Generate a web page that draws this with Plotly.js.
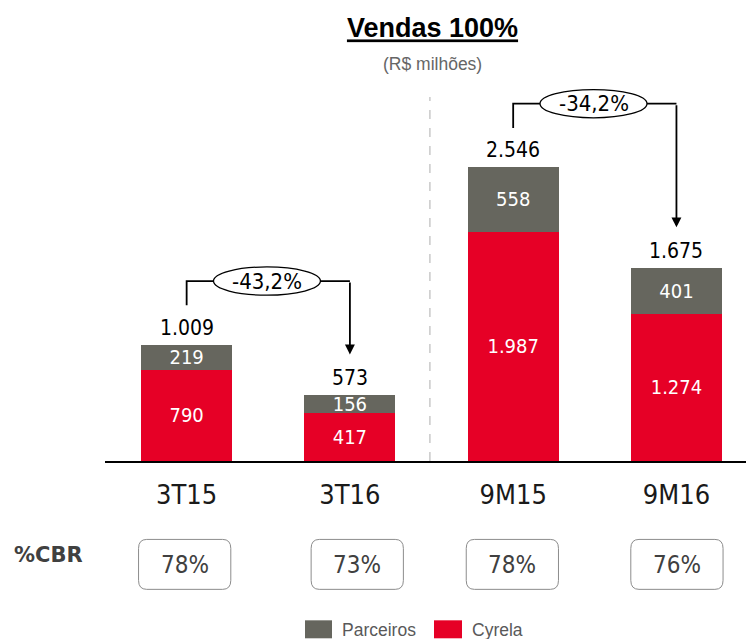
<!DOCTYPE html>
<html>
<head>
<meta charset="utf-8">
<script src="https://cdn.plot.ly/plotly-3.0.1.min.js"></script>
<style>html,body{margin:0;padding:0;background:#fff;}#chart{width:746px;height:639px;}</style>
</head>
<body>
<div id="chart"></div>
<script>
// ---- data ----
const categories = ['3T15', '3T16', '9M15', '9M16'];
const cyrela = [790, 417, 1987, 1274];
const parceiros = [219, 156, 558, 401];
const totals = [1009, 573, 2546, 1675];
const cbr = [78, 73, 78, 76];
const comparisons = [[0, 1], [2, 3]];

// ---- style / layout constants ----
const RED = '#E60026', GRAY = '#66665E';
const NUMFONT = '"DejaVu Sans Condensed", "DejaVu Sans", Tahoma, Verdana, sans-serif';
const BOLDFONT = '"DejaVu Sans", Tahoma, Verdana, sans-serif';
const ARIAL = '"Liberation Sans", Arial, Helvetica, sans-serif';
const W = 746, H = 639, mL = 105, mR = 0, mT = 20, mB = 177.5;
const plotW = W - mL - mR, plotH = H - mT - mB;
const yMax = 3821;
const pxY = py => (H - mB - py) / plotH;     // pixel y -> paper y
const pxX = px => (px - mL) / plotW;         // pixel x -> paper x
const xIdx = categories.map((c, i) => i);

function fmtInt(v) { return String(v).replace(/\B(?=(\d{3})+(?!\d))/g, '.'); }
function fmtPct(v) { return (v * 100).toFixed(1).replace('.', ',') + '%'; }

const traces = [
  {
    type: 'bar', name: 'Cyrela', x: xIdx, y: cyrela,
    marker: {color: RED},
    texttemplate: '%{y:,.0f}', textposition: 'inside', insidetextanchor: 'middle',
    constraintext: 'none', cliponaxis: false,
    textfont: {color: '#ffffff', size: 20, family: NUMFONT},
    hoverinfo: 'skip'
  },
  {
    type: 'bar', name: 'Parceiros', x: xIdx, y: parceiros,
    marker: {color: GRAY},
    texttemplate: '%{y:,.0f}', textposition: 'inside', insidetextanchor: 'middle',
    constraintext: 'none', cliponaxis: false,
    textfont: {color: '#ffffff', size: 20, family: NUMFONT},
    hoverinfo: 'skip'
  }
];

const shapes = [];
const annotations = [];

// totals above bars
totals.forEach((t, i) => {
  annotations.push({x: i, y: t, xref: 'x', yref: 'y', text: fmtInt(t), showarrow: false,
    xanchor: 'center', yanchor: 'bottom', yshift: 3, font: {size: 21, color: '#000', family: NUMFONT}});
});

// comparison brackets
const ellW = 0.655, ellH = 245;
comparisons.forEach(([a, b]) => {
  const startY = totals[a] + 340;
  const level = totals[a] + 550;
  const tipY = totals[b] + 350;
  const mid = (a + b) / 2 - 0.008;
  shapes.push({type: 'path', xref: 'x', yref: 'y', layer: 'above',
    path: `M ${a},${startY} V ${level} H ${mid - ellW / 2} M ${mid + ellW / 2},${level} H ${b}`,
    line: {color: '#000', width: 1.8}});
  shapes.push({type: 'circle', xref: 'x', yref: 'y', layer: 'above',
    x0: mid - ellW / 2, x1: mid + ellW / 2, y0: level - ellH / 2, y1: level + ellH / 2,
    line: {color: '#000', width: 1.3}, fillcolor: '#fff'});
  annotations.push({x: mid, y: level, xref: 'x', yref: 'y', text: fmtPct(totals[b] / totals[a] - 1),
    showarrow: false, xanchor: 'center', yanchor: 'middle', font: {size: 22, color: '#000', family: NUMFONT}});
  annotations.push({x: b, y: tipY, ax: b, ay: level, xref: 'x', yref: 'y', axref: 'x', ayref: 'y',
    text: '', showarrow: true, arrowhead: 2, arrowsize: 1.1, arrowwidth: 1.8, arrowcolor: '#000', standoff: 0});
});

// dashed separator between quarter and nine-month groups
shapes.push({type: 'line', xref: 'x', yref: 'y', x0: 1.49, x1: 1.49, y0: 0, y1: 3154,
  line: {color: '#BBBBBB', width: 1.2, dash: 'dash'}, layer: 'below'});

// %CBR row
const cbrShift = [-0.012, 0.045, -0.005, 0.003];
const boxW = 0.565, rx = 0.05;
const by0 = pxY(590), by1 = pxY(540), ry = 9 / plotH;
cbr.forEach((v, i) => {
  const c = i + cbrShift[i], x0 = c - boxW / 2, x1 = c + boxW / 2;
  shapes.push({type: 'path', xref: 'x', yref: 'paper',
    path: `M ${x0 + rx},${by0} L ${x1 - rx},${by0} Q ${x1},${by0} ${x1},${by0 + ry} L ${x1},${by1 - ry} Q ${x1},${by1} ${x1 - rx},${by1} L ${x0 + rx},${by1} Q ${x0},${by1} ${x0},${by1 - ry} L ${x0},${by0 + ry} Q ${x0},${by0} ${x0 + rx},${by0} Z`,
    line: {color: '#8C8C8C', width: 1}, fillcolor: 'rgba(0,0,0,0)'});
  annotations.push({x: c, y: pxY(566), xref: 'x', yref: 'paper', text: v + '%', showarrow: false,
    xanchor: 'center', yanchor: 'middle', font: {size: 24, color: '#404040', family: NUMFONT}});
});
annotations.push({x: pxX(48), y: pxY(556), xref: 'paper', yref: 'paper', text: '<b>%CBR</b>', showarrow: false,
  xanchor: 'center', yanchor: 'middle', font: {size: 21, color: '#404040', family: BOLDFONT}});

// subtitle
annotations.push({x: pxX(432.5), y: pxY(64), xref: 'paper', yref: 'paper', text: '(R$ milhões)', showarrow: false,
  xanchor: 'center', yanchor: 'middle', font: {size: 17.5, color: '#666666', family: ARIAL}});

// custom legend
const legendItems = [
  {name: traces[1].name, color: GRAY, x0: 305, x1: 332, tx: 340},
  {name: traces[0].name, color: RED, x0: 434, x1: 462, tx: 470}
];
legendItems.forEach(it => {
  shapes.push({type: 'rect', xref: 'paper', yref: 'paper', x0: pxX(it.x0), x1: pxX(it.x1),
    y0: pxY(639), y1: pxY(621), fillcolor: it.color, line: {width: 0}});
  annotations.push({x: pxX(it.tx), y: pxY(631), xref: 'paper', yref: 'paper', text: it.name, showarrow: false,
    xanchor: 'left', yanchor: 'middle', font: {size: 17.5, color: '#595959', family: ARIAL}});
});

const layout = {
  width: W, height: H,
  margin: {l: mL, r: mR, t: mT, b: mB, pad: 0},
  paper_bgcolor: '#fff', plot_bgcolor: '#fff',
  barmode: 'stack', bargap: 0.443,
  separators: ',.',
  showlegend: false,
  title: {text: 'Vendas 100%', x: 432.5 / W, xref: 'container', xanchor: 'center',
    y: 1 - 28 / H, yref: 'container', yanchor: 'middle',
    font: {size: 27, color: '#000', family: ARIAL, weight: 'bold', lineposition: 'under'}},
  xaxis: {
    range: [-0.5, (W - mR - mL) / plotW * 3.926 - 0.5],
    tickvals: xIdx, ticktext: categories,
    showline: true, linecolor: '#000', linewidth: 1.5,
    ticks: 'outside', ticklen: 9, tickcolor: 'rgba(0,0,0,0)',
    showgrid: false, zeroline: false, fixedrange: true,
    tickfont: {size: 27, color: '#1a1a1a', family: NUMFONT}
  },
  yaxis: {range: [0, yMax], visible: false, showgrid: false, zeroline: false, fixedrange: true},
  shapes: shapes,
  annotations: annotations
};

Plotly.newPlot('chart', traces, layout, {displayModeBar: false, staticPlot: true});
</script>
</body>
</html>
